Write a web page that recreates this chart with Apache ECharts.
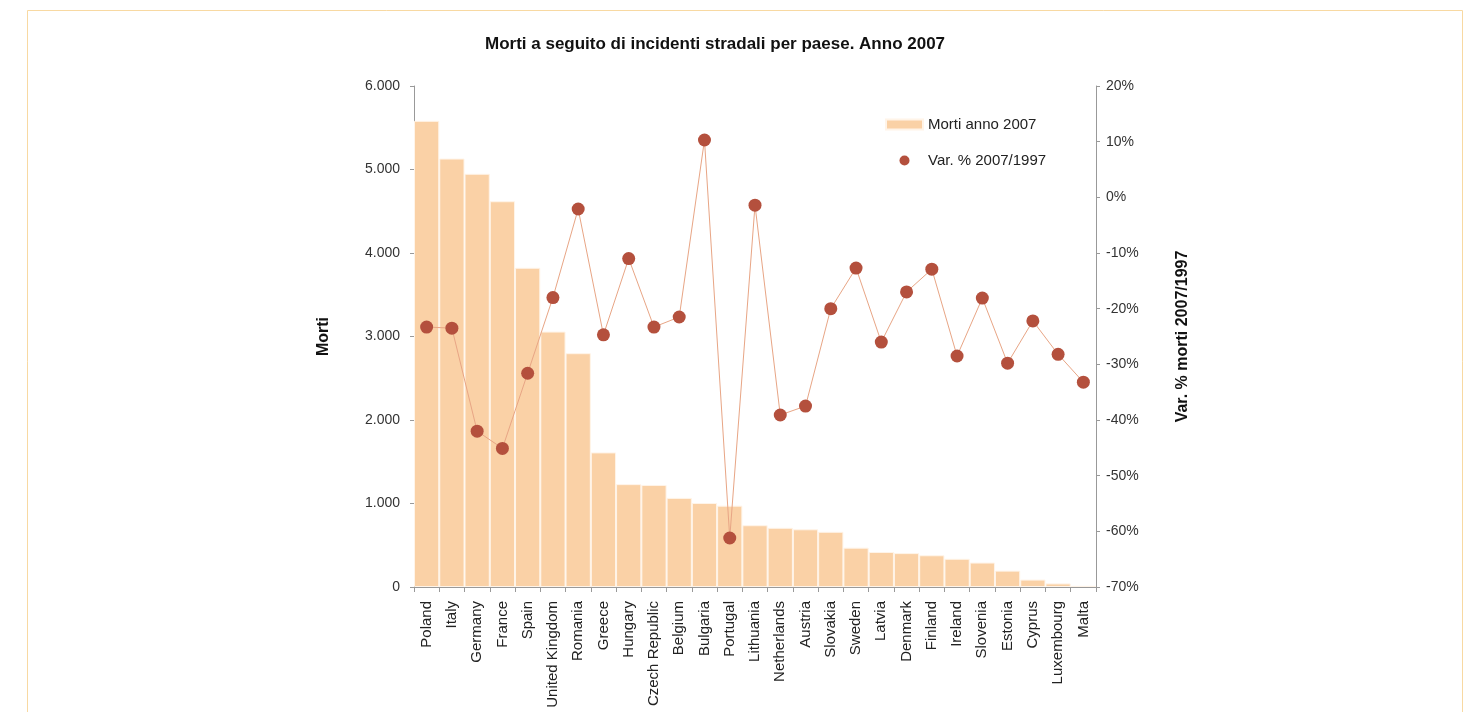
<!DOCTYPE html>
<html>
<head>
<meta charset="utf-8">
<script src="https://cdn.jsdelivr.net/npm/echarts@6/dist/echarts.min.js"></script>
<style>
  html, body { margin: 0; padding: 0; background: #ffffff; }
  #chart { width: 1472px; height: 712px; }
</style>
</head>
<body>
<div id="chart"></div>
<script>
// Road deaths per EU country in 2007 and their % change versus 1997
const countries = ['Poland', 'Italy', 'Germany', 'France', 'Spain', 'United Kingdom', 'Romania', 'Greece',
  'Hungary', 'Czech Republic', 'Belgium', 'Bulgaria', 'Portugal', 'Lithuania', 'Netherlands', 'Austria',
  'Slovakia', 'Sweden', 'Latvia', 'Denmark', 'Finland', 'Ireland', 'Slovenia', 'Estonia', 'Cyprus',
  'Luxembourg', 'Malta'];

const deaths2007 = [5583, 5131, 4949, 4620, 3823, 3059, 2800, 1612, 1232, 1222, 1067, 1006, 974, 740,
  709, 691, 661, 471, 419, 406, 380, 338, 293, 196, 89, 43, 14];

const change2007vs1997 = [-23.3, -23.5, -42.0, -45.1, -31.6, -18.0, -2.1, -24.7, -11.0, -23.3, -21.5,
  10.3, -61.2, -1.4, -39.1, -37.5, -20.0, -12.7, -26.0, -17.0, -12.9, -28.5, -18.1, -29.8, -22.2,
  -28.2, -33.2];

const leftTicks = { min: 0, max: 6000, interval: 1000 };
const rightTicks = { min: -70, max: 20, interval: 10 };

const font = 'Liberation Sans, Arial, sans-serif';

function thousands(v) {
  return String(v).replace(/\B(?=(\d{3})+(?!\d))/g, '.');
}

const chart = echarts.init(document.getElementById('chart'));

chart.setOption({
  backgroundColor: '#ffffff',
  animation: false,
  textStyle: { fontFamily: font },
  graphic: [{
    type: 'rect',
    shape: { x: 27.5, y: 10.5, width: 1435, height: 740 },
    style: { fill: 'none', stroke: '#F8D9A2', lineWidth: 1 },
    silent: true
  }],
  title: {
    text: 'Morti a seguito di incidenti stradali per paese. Anno 2007',
    left: 480,
    top: 31,
    textStyle: { fontFamily: font, fontSize: 17, fontWeight: 'bold', color: '#111' }
  },
  legend: {
    orient: 'vertical',
    left: 880,
    top: 112,
    itemWidth: 37,
    itemHeight: 10,
    itemGap: 21,
    textStyle: { fontFamily: font, fontSize: 15, color: '#222' },
    data: [
      { name: 'Morti anno 2007', icon: 'rect' },
      { name: 'Var. % 2007/1997', icon: 'circle' }
    ]
  },
  grid: { left: 414, right: 376, top: 86, bottom: 125 },
  xAxis: {
    type: 'category',
    data: countries,
    axisLine: { lineStyle: { color: '#999', width: 1 } },
    axisTick: { show: true, length: 5, lineStyle: { color: '#999' } },
    axisLabel: {
      interval: 0,
      rotate: 90,
      margin: 14,
      fontFamily: font,
      fontSize: 15,
      color: '#222'
    }
  },
  yAxis: [{
    type: 'value',
    name: 'Morti',
    nameLocation: 'middle',
    nameRotate: 90,
    nameGap: 82,
    nameTextStyle: { fontFamily: font, fontSize: 16, fontWeight: 'bold', color: '#111' },
    min: leftTicks.min,
    max: leftTicks.max,
    interval: leftTicks.interval,
    splitLine: { show: false },
    axisLine: { show: true, lineStyle: { color: '#999' } },
    axisTick: { show: true, length: 4, lineStyle: { color: '#999' } },
    axisLabel: { formatter: thousands, fontFamily: font, fontSize: 14, color: '#333', margin: 14 }
  }, {
    type: 'value',
    position: 'right',
    name: 'Var. % morti 2007/1997',
    nameLocation: 'middle',
    nameRotate: 90,
    nameGap: 79,
    nameTextStyle: { fontFamily: font, fontSize: 16, fontWeight: 'bold', color: '#111' },
    min: rightTicks.min,
    max: rightTicks.max,
    interval: rightTicks.interval,
    splitLine: { show: false },
    axisLine: { show: true, lineStyle: { color: '#999' } },
    axisTick: { show: true, length: 4, lineStyle: { color: '#999' } },
    axisLabel: { formatter: v => v + '%', fontFamily: font, fontSize: 14, color: '#333', margin: 10 }
  }],
  series: [{
    name: 'Morti anno 2007',
    type: 'bar',
    yAxisIndex: 0,
    data: deaths2007,
    barCategoryGap: 0,
    itemStyle: { color: '#FAD1A6', borderColor: '#FFF4E8', borderWidth: 1 }
  }, {
    name: 'Var. % 2007/1997',
    type: 'line',
    yAxisIndex: 1,
    data: change2007vs1997,
    symbol: 'circle',
    symbolSize: 13,
    lineStyle: { color: '#E8A585', width: 1 },
    itemStyle: { color: '#B4503D' },
    z: 5
  }]
});
</script>
</body>
</html>
